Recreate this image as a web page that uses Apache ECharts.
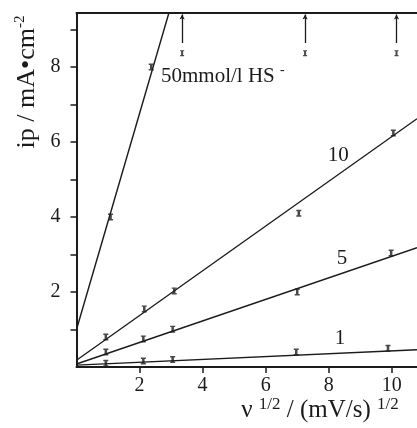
<!DOCTYPE html>
<html>
<head>
<meta charset="utf-8">
<script src="https://cdn.jsdelivr.net/npm/echarts@6/dist/echarts.min.js"></script>
<style>
  html, body { margin: 0; padding: 0; background: #fff; }
  #chart { width: 417px; height: 428px; }
</style>
</head>
<body>
<div id="chart"></div>
<script>
// Measured peak currents (x = sqrt of scan rate, y = ip in mA/cm2)
const pts50 = [[1.08, 4.0], [2.37, 8.0]];
const pts10 = [[0.93, 0.80], [2.15, 1.55], [3.10, 2.03], [7.05, 4.10], [10.05, 6.24]];
const pts5  = [[0.93, 0.40], [2.12, 0.75], [3.05, 1.01], [7.00, 2.00], [9.98, 3.04]];
const pts1  = [[0.93, 0.10], [2.12, 0.16], [3.05, 0.20], [6.97, 0.40], [9.88, 0.50]];

// 50 mmol/l: currents beyond the plotted range (marker plus upward arrow)
const offScale50 = [[3.35, 8.37], [7.25, 8.37], [10.15, 8.37]];

// Regression lines, as end points
const fit50 = [[0, 1.0], [2.93, 9.44]];
const fit10 = [[0, 0.18], [10.8, 6.62]];
const fit5  = [[0, 0.08], [10.8, 3.18]];
const fit1  = [[0, 0.05], [10.8, 0.46]];

// Concentration labels, placed in data units
const curveLabels = [
  { at: [2.68, 7.76], text: '{a|50mmol/l HS }{s|-}', align: 'left' },
  { at: [8.30, 5.65], text: '{a|10}', align: 'center' },
  { at: [8.42, 2.90], text: '{a|5}', align: 'center' },
  { at: [8.36, 0.75], text: '{a|1}', align: 'center' }
];

const xTicks = [2, 4, 6, 8, 10];
const yTicks = [2, 4, 6, 8];
const yMinorTicks = [1, 2, 3, 4, 5, 6, 7, 8, 9];

const ink = '#1b1b1b';
const serif = '"Liberation Serif", "DejaVu Serif", serif';
const barMark = 'path://M0,0L6,0L6,2L4.5,2L4.5,8L6,8L6,10L0,10L0,8L1.5,8L1.5,2L0,2Z';

function fitSeries(data) {
  return {
    type: 'line', data: data, symbol: 'none', silent: true, clip: true,
    lineStyle: { color: ink, width: 1.4 }, z: 2
  };
}
function pointSeries(data) {
  return {
    type: 'scatter', data: data, symbol: barMark, symbolSize: [5, 7],
    itemStyle: { color: ink }, silent: true, z: 3
  };
}

const chart = echarts.init(document.getElementById('chart'), null, { renderer: 'canvas' });

const option = {
  backgroundColor: '#fff',
  animation: false,
  grid: { left: 76.5, top: 13, width: 353, height: 354, containLabel: false },
  xAxis: [{
    type: 'value', min: 0, max: 10.8, interval: 2,
    axisLine: { show: true, onZero: false, lineStyle: { color: ink, width: 2 } },
    axisTick: { show: true, inside: false, length: 6, customValues: xTicks,
                lineStyle: { color: ink, width: 1.5 } },
    axisLabel: {
      color: ink, fontFamily: serif, fontSize: 20, margin: 9, customValues: xTicks
    },
    splitLine: { show: false }
  }, {
    type: 'value', position: 'top', min: 0, max: 10.8,
    axisLine: { show: true, onZero: false, lineStyle: { color: ink, width: 2 } },
    axisTick: { show: false }, axisLabel: { show: false }, splitLine: { show: false }
  }],
  yAxis: {
    type: 'value', min: 0, max: 9.44, interval: 1,
    axisLine: { show: true, onZero: false, lineStyle: { color: ink, width: 2 } },
    axisTick: { show: true, inside: false, length: 6, customValues: yMinorTicks,
                lineStyle: { color: ink, width: 1.5 } },
    axisLabel: {
      color: ink, fontFamily: serif, fontSize: 20, margin: 16, customValues: yTicks
    },
    splitLine: { show: false }
  },
  series: [
    fitSeries(fit50), fitSeries(fit10), fitSeries(fit5), fitSeries(fit1),
    pointSeries(pts50), pointSeries(pts10), pointSeries(pts5), pointSeries(pts1),
    {
      type: 'scatter', data: offScale50, symbol: barMark, symbolSize: [4, 6],
      itemStyle: { color: ink }, silent: true, z: 3,
      markLine: {
        silent: true, animation: false,
        symbol: ['none', 'arrow'], symbolSize: [4, 5],
        lineStyle: { color: ink, width: 1.3, type: 'solid' },
        label: { show: false },
        data: offScale50.map(p => [{ coord: [p[0], p[1] + 0.27] }, { coord: [p[0], 9.40] }])
      }
    },
    {
      type: 'scatter', symbol: 'circle', symbolSize: 1, silent: true, z: 4,
      itemStyle: { color: 'rgba(0,0,0,0)' },
      data: curveLabels.map(l => ({
        value: l.at,
        label: {
          show: true, formatter: l.text, position: 'inside', align: l.align,
          color: ink, textBorderWidth: 0, opacity: 1,
          rich: {
            a: { fontFamily: serif, fontSize: 21, color: ink, textBorderWidth: 0 },
            s: { fontFamily: serif, fontSize: 14, color: ink, textBorderWidth: 0, padding: [0, 0, 12, 0] }
          }
        }
      }))
    }
  ],
  graphic: [
    {
      type: 'text', x: 27, y: 82, rotation: Math.PI / 2,
      style: {
        text: '{a|ip / mA•cm}{s|-2}',
        align: 'center', verticalAlign: 'middle', fill: ink,
        rich: {
          a: { fontFamily: serif, fontSize: 26, fill: ink },
          s: { fontFamily: serif, fontSize: 15, fill: ink, padding: [0, 0, 14, 0] }
        }
      }
    },
    {
      type: 'text', x: 320, y: 410,
      style: {
        text: '{a|ν }{s|1/2}{a| / (mV/s) }{s|1/2}',
        align: 'center', verticalAlign: 'middle', fill: ink,
        rich: {
          a: { fontFamily: serif, fontSize: 25, fill: ink },
          s: { fontFamily: serif, fontSize: 17, fill: ink, padding: [0, 0, 11, 0] }
        }
      }
    }
  ]
};

chart.setOption(option);
</script>
</body>
</html>
